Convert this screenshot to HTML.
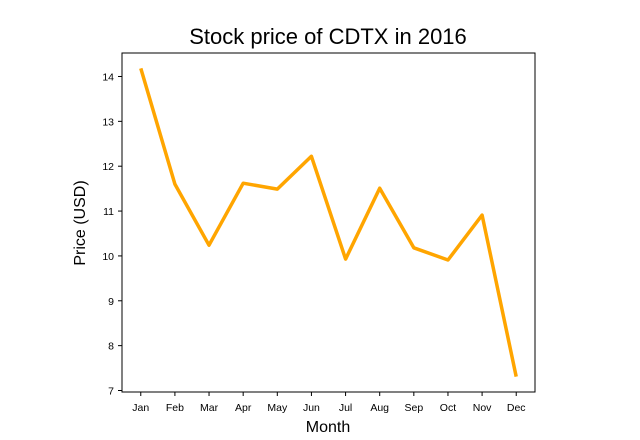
<!DOCTYPE html>
<html><head><meta charset="utf-8"><style>
body{margin:0;background:#fff;}
svg{display:block;font-family:"Liberation Sans","DejaVu Sans",sans-serif;}
</style></head><body>
<svg id="chart" width="640" height="440">
<text x="328" y="44" text-anchor="middle" font-size="22">Stock price of CDTX in 2016</text>
<text x="328" y="432" text-anchor="middle" font-size="16">Month</text>
<text transform="translate(85,223) rotate(-90)" text-anchor="middle" font-size="16">Price (USD)</text>
<g id="ticks"></g>
<path id="line" fill="none" stroke="#ffa500" stroke-width="3.5" stroke-linejoin="round"></path>
<rect x="122" y="53" width="413" height="339" fill="none" stroke="#000" stroke-width="1"></rect>
</svg>
<script>
const months=["Jan","Feb","Mar","Apr","May","Jun","Jul","Aug","Sep","Oct","Nov","Dec"];
const prices=[14.18,11.60,10.24,11.62,11.49,12.22,9.93,11.51,10.18,9.91,10.91,7.31];
const yTicks=[7,8,9,10,11,12,13,14];
const L=122,R=535,T=53,B=392;
const n=months.length;
const xmin=-0.05*(n-1),xmax=(n-1)*1.05;
const dmin=Math.min(...prices),dmax=Math.max(...prices),pad=(dmax-dmin)*0.05;
const ymin=dmin-pad,ymax=dmax+pad;
const xs=i=>L+(i-xmin)/(xmax-xmin)*(R-L);
const ys=v=>B-(v-ymin)/(ymax-ymin)*(B-T);
const NS="http://www.w3.org/2000/svg";
const g=document.getElementById('ticks');
function mk(t,a){const e=document.createElementNS(NS,t);for(const k in a)e.setAttribute(k,a[k]);g.appendChild(e);return e;}
months.forEach((m,i)=>{
 const x=xs(i);
 const tk=mk('line',{x1:x,x2:x,y1:B,y2:B+4,stroke:'#000'});
 
 
 const t=mk('text',{x:x,y:B+19,'text-anchor':'middle','font-size':'10.5'});
 t.textContent=m;
 
 
});
yTicks.forEach(v=>{
 const y=ys(v);
 const tk=mk('line',{x1:L-4,x2:L,y1:y,y2:y,stroke:'#000'});
 
 
 const t=mk('text',{x:L-8,y:y+4,'text-anchor':'end','font-size':'10.5'});
 t.textContent=v;
 
 
});
document.getElementById('line').setAttribute('d',prices.map((p,i)=>(i?'L':'M')+xs(i).toFixed(1)+','+ys(p).toFixed(1)).join(''));
</script>
</body></html>
